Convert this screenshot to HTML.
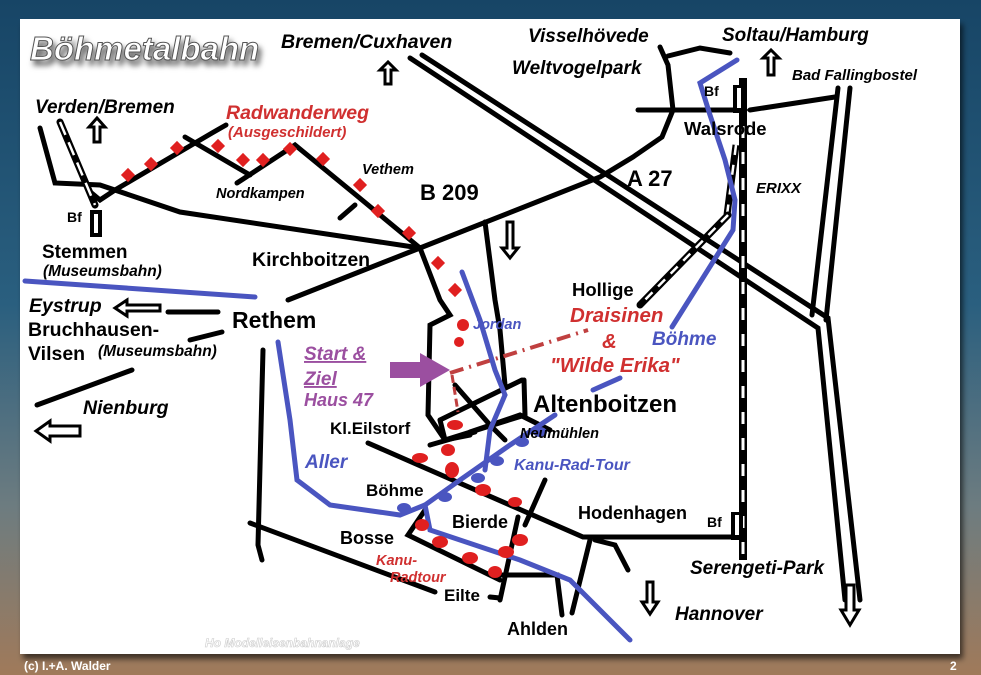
<!DOCTYPE html>
<html><head><meta charset="utf-8"><style>
html,body{margin:0;padding:0;width:981px;height:675px;overflow:hidden;}
body{background:linear-gradient(180deg,#174566 0%,#2a5f7f 45%,#6d7c80 75%,#a07a5a 100%);font-family:"Liberation Sans",sans-serif;}
svg{position:absolute;left:0;top:0}
text{font-family:"Liberation Sans",sans-serif;font-weight:bold}
</style></head><body>
<svg width="981" height="675" viewBox="0 0 981 675">
<defs><filter id="sh" x="-10%" y="-30%" width="130%" height="180%"><feDropShadow dx="3" dy="5" stdDeviation="3" flood-color="#000" flood-opacity="0.6"/></filter></defs>
<rect x="20" y="19" width="940" height="635" fill="#fff" filter="url(#sh)"/>
<g stroke="#000" stroke-width="5" fill="none" stroke-linecap="round">
<!-- A27 -->
<polyline points="410,58 818,328 845,600"/>
<polyline points="422,55 828,318 860,600"/>
<!-- Bad Fallingbostel double -->
<line x1="838" y1="88" x2="812" y2="315"/>
<line x1="850" y1="88" x2="826" y2="320"/>
<!-- main roads -->
<polyline points="40,128 55,183 100,185 180,212 420,248 600,177 633,157 662,137 673,110 668,65 660,47"/>
<polyline points="668,56 700,48 730,53"/>
<line x1="638" y1="110" x2="745" y2="110"/>
<line x1="750" y1="110" x2="835" y2="97"/>
<polyline points="88,190 100,200 115,190 212,133 226,125"/>
<polyline points="185,137 250,175"/>
<polyline points="237,183 295,145 356,195 420,248"/>
<line x1="340" y1="218" x2="355" y2="205"/>
<line x1="168" y1="312" x2="218" y2="312"/>
<line x1="190" y1="340" x2="222" y2="332"/>
<line x1="37" y1="405" x2="132" y2="370"/>
<line x1="288" y1="300" x2="420" y2="248"/>
<polyline points="420,248 440,300 450,315 430,325 428,415 445,440 470,435"/>
<polyline points="485,222 495,300 500,330 505,385"/>
<polyline points="263,350 258,545 262,560"/>
<polyline points="250,523 435,592"/>
<polyline points="368,443 583,537 740,537"/>
<line x1="440" y1="420" x2="522" y2="380"/>
<polyline points="440,420 445,440 525,415 524,380"/>
<polyline points="455,385 490,425 505,440"/>
<polyline points="470,432 520,415 550,430"/>
<line x1="430" y1="445" x2="475" y2="432"/>
<line x1="545" y1="480" x2="525" y2="525"/>
<line x1="518" y1="517" x2="500" y2="600"/>
<polyline points="425,510 408,535 500,580"/>
<polyline points="500,575 557,575 562,615"/>
<polyline points="490,597 500,598"/>
<polyline points="590,540 572,613"/>
<polyline points="595,540 615,545 628,570"/>
</g>
<!-- railway vertical -->
<line x1="743" y1="78" x2="743" y2="560" stroke="#000" stroke-width="8"/>
<line x1="743" y1="100" x2="743" y2="555" stroke="#fff" stroke-width="3" stroke-dasharray="12,14"/>
<line x1="736" y1="145" x2="727" y2="215" stroke="#000" stroke-width="7"/>
<line x1="736" y1="145" x2="727" y2="215" stroke="#fff" stroke-width="2.5" stroke-dasharray="10,10"/>
<line x1="728" y1="215" x2="640" y2="305" stroke="#000" stroke-width="7" stroke-linecap="round"/>
<line x1="728" y1="215" x2="640" y2="305" stroke="#fff" stroke-width="2.5" stroke-dasharray="10,8"/>
<line x1="60" y1="122" x2="95" y2="205" stroke="#000" stroke-width="7" stroke-linecap="round"/>
<line x1="60" y1="122" x2="95" y2="205" stroke="#fff" stroke-width="2.5" stroke-dasharray="14,8"/>
<rect x="90" y="210" width="12" height="27" fill="#000"/><rect x="94" y="214" width="4" height="19" fill="#fff"/>
<rect x="733" y="85" width="12" height="28" fill="#000"/><rect x="737" y="88" width="4" height="20" fill="#fff"/>
<rect x="731" y="512" width="12" height="28" fill="#000"/><rect x="735" y="515" width="4" height="20" fill="#fff"/>
<!-- Draisinen track -->
<line x1="450" y1="373" x2="588" y2="330" stroke="#c04040" stroke-width="4" stroke-dasharray="14,6,2,6"/>
<line x1="452" y1="375" x2="458" y2="412" stroke="#c04040" stroke-width="3" stroke-dasharray="8,4"/>
<polygon points="390,362 420,362 420,353 450,370 420,387 420,378 390,378" fill="#9b4fa0"/>
<!-- blue lines -->
<g stroke="#4a55c0" stroke-width="5" fill="none" stroke-linecap="round">
<line x1="25" y1="281" x2="255" y2="297"/>
<polyline points="278,342 290,420 297,480 330,505 400,515 425,505 460,480 510,445 555,415"/>
<polyline points="425,505 430,530 520,560 570,580 630,640"/>
<polyline points="462,272 480,320 495,370 505,395 490,430 485,470"/>
<polyline points="737,60 700,83 710,115 725,160 735,200 733,230 672,327"/>
<line x1="593" y1="390" x2="620" y2="378"/>
</g>
<g fill="#4a55c0"><ellipse cx="540" cy="432" rx="7" ry="5"/><ellipse cx="522" cy="442" rx="7" ry="5"/><ellipse cx="497" cy="461" rx="7" ry="5"/><ellipse cx="478" cy="478" rx="7" ry="5"/><ellipse cx="445" cy="497" rx="7" ry="5"/><ellipse cx="404" cy="508" rx="7" ry="5"/></g>
<!-- red dots -->
<g fill="#e02020">
<rect x="123" y="170" width="10" height="10" transform="rotate(45 128 175)"/><rect x="146" y="159" width="10" height="10" transform="rotate(45 151 164)"/><rect x="172" y="143" width="10" height="10" transform="rotate(45 177 148)"/><rect x="213" y="141" width="10" height="10" transform="rotate(45 218 146)"/><rect x="238" y="155" width="10" height="10" transform="rotate(45 243 160)"/><rect x="258" y="155" width="10" height="10" transform="rotate(45 263 160)"/><rect x="285" y="144" width="10" height="10" transform="rotate(45 290 149)"/><rect x="318" y="154" width="10" height="10" transform="rotate(45 323 159)"/><rect x="355" y="180" width="10" height="10" transform="rotate(45 360 185)"/><rect x="373" y="206" width="10" height="10" transform="rotate(45 378 211)"/><rect x="404" y="228" width="10" height="10" transform="rotate(45 409 233)"/><rect x="433" y="258" width="10" height="10" transform="rotate(45 438 263)"/><rect x="450" y="285" width="10" height="10" transform="rotate(45 455 290)"/>
<circle cx="463" cy="325" r="6"/><circle cx="459" cy="342" r="5"/>
<ellipse cx="455" cy="425" rx="8" ry="5"/><ellipse cx="448" cy="450" rx="7" ry="6"/><ellipse cx="420" cy="458" rx="8" ry="5"/><ellipse cx="452" cy="470" rx="7" ry="8"/><ellipse cx="483" cy="490" rx="8" ry="6"/><ellipse cx="515" cy="502" rx="7" ry="5"/><ellipse cx="422" cy="525" rx="7" ry="6"/><ellipse cx="440" cy="542" rx="8" ry="6"/><ellipse cx="520" cy="540" rx="8" ry="6"/><ellipse cx="470" cy="558" rx="8" ry="6"/><ellipse cx="506" cy="552" rx="8" ry="6"/><ellipse cx="495" cy="572" rx="7" ry="6"/>
</g>
<!-- arrows -->
<g fill="#fff" stroke="#000" stroke-width="3">
<polygon points="388,62 380,70 385,70 385,84 391,84 391,70 396,70"/>
<polygon points="97,118 89,127 94,127 94,142 100,142 100,127 105,127"/>
<polygon points="771,50 763,58 768,58 768,75 774,75 774,58 779,58"/>
<polygon points="510,258 502,248 507,248 507,222 513,222 513,248 518,248"/>
<polygon points="650,614 642,602 647,602 647,582 653,582 653,602 658,602"/>
<polygon points="850,625 841,610 846,610 846,585 854,585 854,610 859,610"/>
<polygon points="115,308 127,300 127,305 160,305 160,311 127,311 127,316"/>
<polygon points="36,431 50,421 50,426 80,426 80,436 50,436 50,441"/>
</g>
<!-- labels -->
<text x="30" y="60" font-size="33" font-style="italic" fill="#fff" stroke="#555" stroke-width="1" filter="url(#sh)">Böhmetalbahn</text>
<g font-style="italic" fill="#000">
<text x="281" y="48" font-size="19.5">Bremen/Cuxhaven</text>
<text x="528" y="42" font-size="19">Visselhövede</text>
<text x="512" y="74" font-size="19">Weltvogelpark</text>
<text x="722" y="41" font-size="19">Soltau/Hamburg</text>
<text x="792" y="80" font-size="15">Bad Fallingbostel</text>
<text x="35" y="113" font-size="19">Verden/Bremen</text>
<text x="216" y="198" font-size="14.5">Nordkampen</text>
<text x="362" y="174" font-size="14.5">Vethem</text>
<text x="756" y="193" font-size="15">ERIXX</text>
<text x="29" y="312" font-size="19.5">Eystrup</text>
<text x="98" y="356" font-size="15.5">(Museumsbahn)</text>
<text x="83" y="414" font-size="19.5">Nienburg</text>
<text x="520" y="438" font-size="14.5">Neumühlen</text>
<text x="690" y="574" font-size="19">Serengeti-Park</text>
<text x="675" y="620" font-size="19">Hannover</text>
<text x="43" y="276" font-size="15.5">(Museumsbahn)</text>
</g>
<g fill="#000">
<text x="67" y="222" font-size="14">Bf</text>
<text x="42" y="258" font-size="19">Stemmen</text>
<text x="252" y="266" font-size="19.5">Kirchboitzen</text>
<text x="420" y="200" font-size="22">B 209</text>
<text x="627" y="186" font-size="22">A 27</text>
<text x="704" y="96" font-size="14">Bf</text>
<text x="684" y="135" font-size="18.5">Walsrode</text>
<text x="572" y="296" font-size="18.5">Hollige</text>
<text x="232" y="328" font-size="23">Rethem</text>
<text x="28" y="336" font-size="19.5">Bruchhausen-</text>
<text x="28" y="360" font-size="19.5">Vilsen</text>
<text x="533" y="412" font-size="24">Altenboitzen</text>
<text x="330" y="434" font-size="17">Kl.Eilstorf</text>
<text x="366" y="496" font-size="17">Böhme</text>
<text x="452" y="528" font-size="18">Bierde</text>
<text x="340" y="544" font-size="18">Bosse</text>
<text x="444" y="601" font-size="17">Eilte</text>
<text x="507" y="635" font-size="18">Ahlden</text>
<text x="578" y="519" font-size="18">Hodenhagen</text>
<text x="707" y="527" font-size="14">Bf</text>
</g>
<g fill="#d03030" font-style="italic">
<text x="226" y="119" font-size="19.5">Radwanderweg</text>
<text x="228" y="137" font-size="15">(Ausgeschildert)</text>
<text x="570" y="322" font-size="20.5">Draisinen</text>
<text x="602" y="348" font-size="20.5">&amp;</text>
<text x="550" y="372" font-size="20.5">"Wilde Erika"</text>
<text x="376" y="565" font-size="14.5">Kanu-</text>
<text x="390" y="582" font-size="14.5">Radtour</text>
</g>
<g fill="#4a55c0" font-style="italic">
<text x="473" y="329" font-size="14.5">Jordan</text>
<text x="652" y="345" font-size="19">Böhme</text>
<text x="305" y="468" font-size="19">Aller</text>
<text x="514" y="470" font-size="16">Kanu-Rad-Tour</text>
</g>
<g fill="#9b4fa0" font-style="italic">
<text x="304" y="360" font-size="19" text-decoration="underline">Start &amp;</text>
<text x="304" y="385" font-size="19" text-decoration="underline">Ziel</text>
<text x="304" y="406" font-size="18">Haus 47</text>
</g>
<text x="205" y="647" font-size="12" font-style="italic" font-weight="normal" fill="#fff" stroke="#ccc" stroke-width="0.6">Ho Modelleisenbahnanlage</text>
<text x="24" y="670" font-size="12" fill="#fff">(c) I.+A. Walder</text>
<text x="950" y="670" font-size="12" fill="#fff">2</text>
</svg>
</body></html>
